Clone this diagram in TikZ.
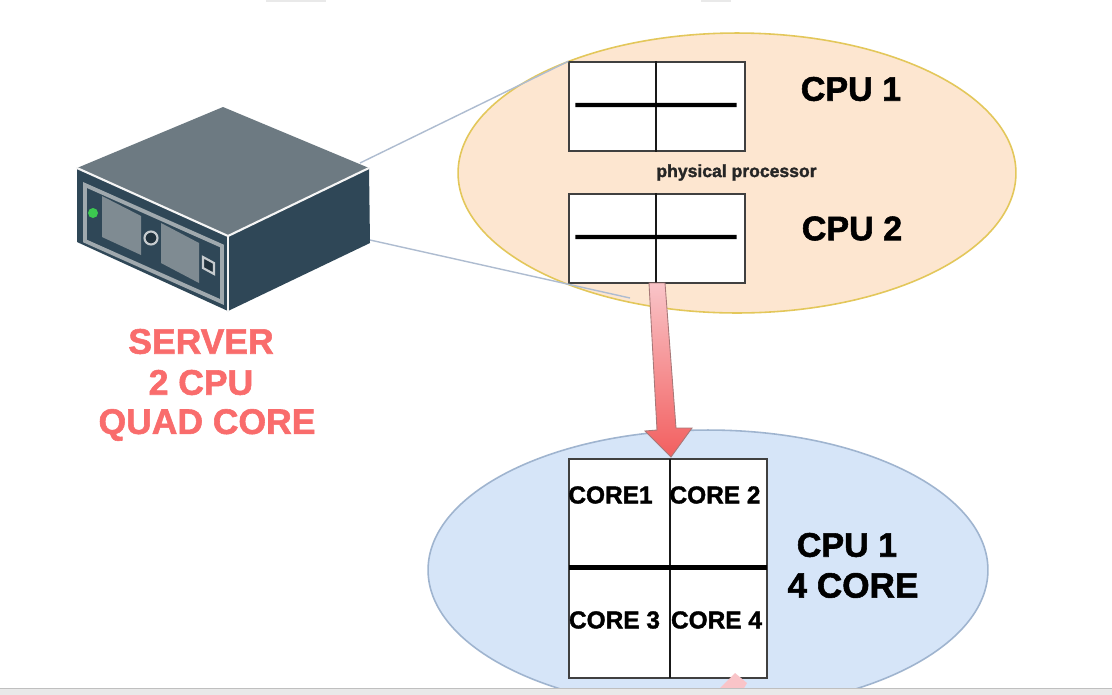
\documentclass[tikz,border=0pt]{standalone}
\usepackage{fontspec}
\setmainfont[BoldFeatures={FakeBold=1.6}]{Liberation Sans}
\definecolor{orangefill}{HTML}{FDE6D0}
\definecolor{orangeline}{HTML}{E3C75A}
\definecolor{bluefill}{HTML}{D6E5F8}
\definecolor{blueline}{HTML}{9FB4CF}
\definecolor{linkline}{HTML}{AEBCD0}
\definecolor{srvtop}{HTML}{6D7A82}
\definecolor{srvdark}{HTML}{2F4757}
\definecolor{srvband}{HTML}{A0A9AE}
\definecolor{srvscreen}{HTML}{7F8B92}
\definecolor{srvgreen}{HTML}{3CC850}
\definecolor{redtext}{HTML}{F96C6C}
\definecolor{arrowtop}{HTML}{F9C4C8}
\definecolor{arrowbot}{HTML}{F25F5F}
\definecolor{arrowline}{HTML}{A87878}
\definecolor{barfill}{HTML}{E9E9E9}
\tikzset{
  blob/.style={ellipse,draw,line width=0.9pt,inner sep=0pt},
  box/.style={rectangle,draw=black!75,fill=white,line width=0.8pt,inner sep=0pt},
  divider/.style={draw=black!90,line width=1.5pt},
  bar/.style={draw=black,line width=2.4pt},
  big/.style={font=\bfseries\fontsize{19.4}{22}\selectfont,text=black,inner sep=0pt},
  bigger/.style={font=\bfseries\fontsize{20}{22}\selectfont,text=black,inner sep=0pt},
  core/.style={font=\bfseries\fontsize{13.9}{16}\selectfont,text=black,inner sep=0pt},
  small/.style={font=\bfseries\fontsize{10}{12}\selectfont,text=black!85,inner sep=0pt},
  red/.style={font=\bfseries\fontsize{20.2}{22}\selectfont,text=redtext,inner sep=0pt},
  link/.style={draw=linkline,line width=0.8pt},
  edge/.style={draw=white!92!gray,line width=1.2pt,line cap=round},
}
\usetikzlibrary{shapes.geometric}
\begin{document}
\begin{tikzpicture}[x=0.02cm,y=-0.02cm]
\useasboundingbox (0,0) rectangle (1112,694);
\clip (0,0) rectangle (1112,694);
\fill[white] (0,0) rectangle (1112,694);
% faint tabs at the top edge
\fill[barfill] (266,0) rectangle (326,1.6);
\fill[barfill] (701,0) rectangle (731,1.6);

% ellipses
\node[blob,draw=orangeline,fill=orangefill,minimum width=11.16cm,minimum height=5.6cm] (cpuzone) at (737,173) {};
\node[blob,draw=blueline,fill=bluefill,minimum width=11.2cm,minimum height=5.6cm] (corezone) at (708,570) {};

% server
\coordinate (sT) at (223,107);
\coordinate (sL) at (77,168);
\coordinate (sR) at (369,168);
\coordinate (sF) at (228,236);
\coordinate (sFb) at (228,311);
\coordinate (sLb) at (77,242);
\coordinate (sRb) at (370,243);
\fill[srvtop] (sT) -- (sR) -- (sF) -- (sL) -- cycle;
\fill[srvdark] (sF) -- (sR) -- (sRb) -- (sFb) -- cycle;
\fill[srvdark] (sL) -- (sF) -- (sFb) -- (sLb) -- cycle;
\draw[srvband,line width=2.2pt,fill=srvdark] (85,185) -- (222,246) -- (222,302) -- (85,241) -- cycle;
\fill[srvscreen] (102,196) -- (141,216) -- (141,255) -- (102,237) -- cycle;
\fill[srvscreen] (161,223) -- (199,243) -- (199,283) -- (161,263) -- cycle;
\fill[srvgreen] (93,213) circle (5);
\draw[srvband!60!white,line width=1.2pt,fill=srvdark!70!black] (151,238) circle (6.5);
\draw[srvband!60!white,line width=1.2pt,fill=srvdark!70!black] (203,257) -- (214,263) -- (214,274) -- (203,268) -- cycle;
\draw[edge] (sL) -- (sF) -- (sR);
\draw[edge] (sF) -- (sFb);

% physical processors
\node[box,minimum width=3.52cm,minimum height=1.78cm] (cpuA) at (657,106.5) {};
\node[box,minimum width=3.52cm,minimum height=1.78cm] (cpuB) at (657,238.5) {};
\draw[divider] (cpuA.north) ++(-1,0) -- ([xshift=-0.02cm]cpuA.south);
\draw[divider] (cpuB.north) ++(-1,0) -- ([xshift=-0.02cm]cpuB.south);
\draw[bar] ([xshift=0.14cm]cpuA.west) ++(0,-1.5) -- ([xshift=-0.18cm,yshift=0.03cm]cpuA.east);
\draw[bar] ([xshift=0.14cm]cpuB.west) ++(0,-1.5) -- ([xshift=-0.18cm,yshift=0.03cm]cpuB.east);

% links from server to the processors
\coordinate (linkA) at (360,163);
\coordinate (linkB) at (370,240);
\coordinate (linkBend) at (630,298);
\draw[link] (linkA) -- (cpuA.north west);
\draw[link] (linkB) -- (linkBend);

% core box
\node[box,minimum width=3.96cm,minimum height=4.38cm] (cores) at (668,568.5) {};
\draw[divider] (670,459) -- (670,678);
\draw[bar] (569,567.5) -- (767,567.5);

% big arrow
\shade[top color=arrowtop,bottom color=arrowbot,draw=arrowline,line width=0.5pt]
  (649,283) -- (665,283) -- (676,428) -- (692,428) -- (671,457) -- (645,431) -- (657,430) -- cycle;

% cut-off arrow at the bottom
\fill[arrowtop] (735,673) -- (747,683) -- (743,690) -- (718,690) -- cycle;

% bottom band
\fill[barfill] (-5,688.5) rectangle (1117,720);
\draw[black!25,line width=0.4pt] (0,688.5) -- (1112,688.5);

% labels
\node[big] (lblA) at (851,89) {CPU 1};
\node[big] (lblB) at (852,228.5) {CPU 2};
\node[small] (lblP) at (736.5,172.5) {physical processor};
\node[big] (lblC) at (847,545) {CPU 1};
\node[bigger] (lblD) at (853,585.5) {4 CORE};
\node[core] (c1) at (610.5,495) {CORE1};
\node[core] (c2) at (715,495) {CORE 2};
\node[core] (c3) at (614.5,620) {CORE 3};
\node[core] (c4) at (716.5,620) {CORE 4};
\node[red] (s1) at (201,341.5) {SERVER};
\node[red] (s2) at (201,382.5) {2 CPU};
\node[red] (s3) at (207,425) {QUAD CORE};
\end{tikzpicture}
\end{document}
